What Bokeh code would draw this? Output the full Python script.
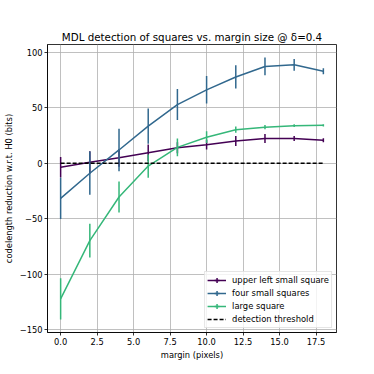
import numpy as np
from bokeh.plotting import figure
from bokeh.models import Range1d, FixedTicker, Legend, LegendItem, ColumnDataSource
from bokeh.embed import file_html
from bokeh.resources import INLINE

# ---- data ----
margins = [0, 2, 4, 6, 8, 10, 12, 14, 16, 18]
upper_left = [-3.6, 0.8, 4.9, 9.4, 14.0, 16.8, 20.0, 22.3, 22.4, 20.8]
upper_left_err = [9.2, 10.0, 8.0, 7.5, 5.0, 4.4, 4.5, 4.1, 2.3, 1.8]
four_small = [-31.7, -9.0, 12.0, 33.5, 53.0, 66.3, 77.9, 87.4, 88.9, 83.1]
four_small_err = [18.7, 19.5, 19.2, 16.0, 14.0, 12.4, 10.5, 8.0, 5.3, 2.7]
large = [-122.4, -69.9, -30.5, -2.5, 14.3, 23.5, 30.3, 32.6, 33.9, 34.2]
large_err = [18.6, 15.3, 14.0, 10.5, 8.0, 5.3, 2.8, 2.0, 1.2, 1.0]
threshold = [0.0] * len(margins)

series_names = ["upper left small square", "four small squares", "large square"]
series_colors = ["#440154", "#31688e", "#35b779"]

x_ticks = [0, 2.5, 5, 7.5, 10, 12.5, 15, 17.5]
x_tick_labels = ["0.0", "2.5", "5.0", "7.5", "10.0", "12.5", "15.0", "17.5"]
y_ticks = [-150, -100, -50, 0, 50, 100]
y_tick_labels = ["\u2212150", "\u2212100", "\u221250", "0", "50", "100"]

title_text = "MDL detection of squares vs. margin size @ \u03b4=0.4"
x_label = "margin (pixels)"
y_label = "codelength reduction w.r.t. H0 (bits)"
threshold_label = "detection threshold"

FONT = "DejaVu Sans"

# ranges with matplotlib-like 5% margins
xs = np.array(margins, dtype=float)
xpad = 0.05 * (xs.max() - xs.min())
pairs = [(upper_left, upper_left_err), (four_small, four_small_err), (large, large_err)]
all_lo = np.concatenate([np.array(s) - np.array(e) for s, e in pairs])
all_hi = np.concatenate([np.array(s) + np.array(e) for s, e in pairs])
ylo, yhi = all_lo.min(), all_hi.max()
ypad = 0.05 * (yhi - ylo)

p = figure(width=374, height=374, output_backend="svg", toolbar_location=None,
           x_range=Range1d(xs.min() - xpad, xs.max() + xpad),
           y_range=Range1d(ylo - ypad, yhi + ypad),
           min_border_left=46, min_border_right=38, min_border_top=44, min_border_bottom=42)

p.title.text = title_text
p.title.align = "center"
p.title.text_font = FONT
p.title.text_font_size = "10.3px"
p.title.text_font_style = "normal"
p.title.text_color = "black"
p.title.standoff = 3

p.outline_line_color = "black"
p.outline_line_width = 0.8
p.background_fill_color = "white"
p.border_fill_color = "white"

for ax, ticks, labels, lab in [(p.xaxis[0], x_ticks, x_tick_labels, x_label),
                                (p.yaxis[0], y_ticks, y_tick_labels, y_label)]:
    ax.ticker = FixedTicker(ticks=ticks)
    ax.major_label_overrides = {t: l for t, l in zip(ticks, labels)}
    ax.axis_label = lab
    ax.axis_label_text_font = FONT
    ax.axis_label_text_font_size = "8.3px"
    ax.axis_label_text_font_style = "normal"
    ax.axis_label_text_color = "black"
    ax.major_label_text_font = FONT
    ax.major_label_text_font_size = "8.3px"
    ax.major_label_text_color = "black"
    ax.major_tick_out = 3
    ax.major_tick_in = 0
    ax.minor_tick_out = 0
    ax.minor_tick_in = 0
    ax.major_tick_line_width = 0.8
    ax.major_tick_line_color = "black"
    ax.axis_line_color = "black"
    ax.axis_line_width = 0.8

p.xaxis.major_label_standoff = 2
p.xaxis.axis_label_standoff = 2
p.yaxis.major_label_standoff = 2
p.yaxis.axis_label_standoff = 3

p.xgrid.grid_line_color = "#b0b0b0"
p.ygrid.grid_line_color = "#b0b0b0"
p.xgrid.grid_line_width = 0.8
p.ygrid.grid_line_width = 0.8

items = []
for name, ys, es, col in zip(series_names, [upper_left, four_small, large],
                             [upper_left_err, four_small_err, large_err], series_colors):
    ys = np.array(ys)
    es = np.array(es)
    src = ColumnDataSource(dict(x=margins, y=ys, lo=ys - es, hi=ys + es))
    seg = p.segment(x0="x", y0="lo", x1="x", y1="hi", source=src, line_color=col, line_width=1.5)
    ln = p.line(x="x", y="y", source=src, line_color=col, line_width=1.5)
    proxy = p.scatter(x=[np.nan], y=[np.nan], marker="cross", line_color=col, line_width=1.5, size=10)
    items.append(LegendItem(label=name, renderers=[ln, proxy]))

thr = p.line(x=margins, y=threshold, line_color="black", line_width=1.5, line_dash="4 2")
items.append(LegendItem(label=threshold_label, renderers=[thr]))

legend = Legend(items=items, location="bottom_right")
legend.label_text_font = FONT
legend.label_text_font_size = "8.4px"
legend.label_text_color = "black"
legend.glyph_width = 19
legend.glyph_height = 12
legend.label_height = 12
legend.spacing = 1
legend.padding = 2
legend.margin = 4
legend.label_standoff = 6
legend.border_line_color = "#cccccc"
legend.border_line_width = 0.8
legend.background_fill_alpha = 0.8
p.add_layout(legend)

open("out.html", "w").write(file_html(p, INLINE))
